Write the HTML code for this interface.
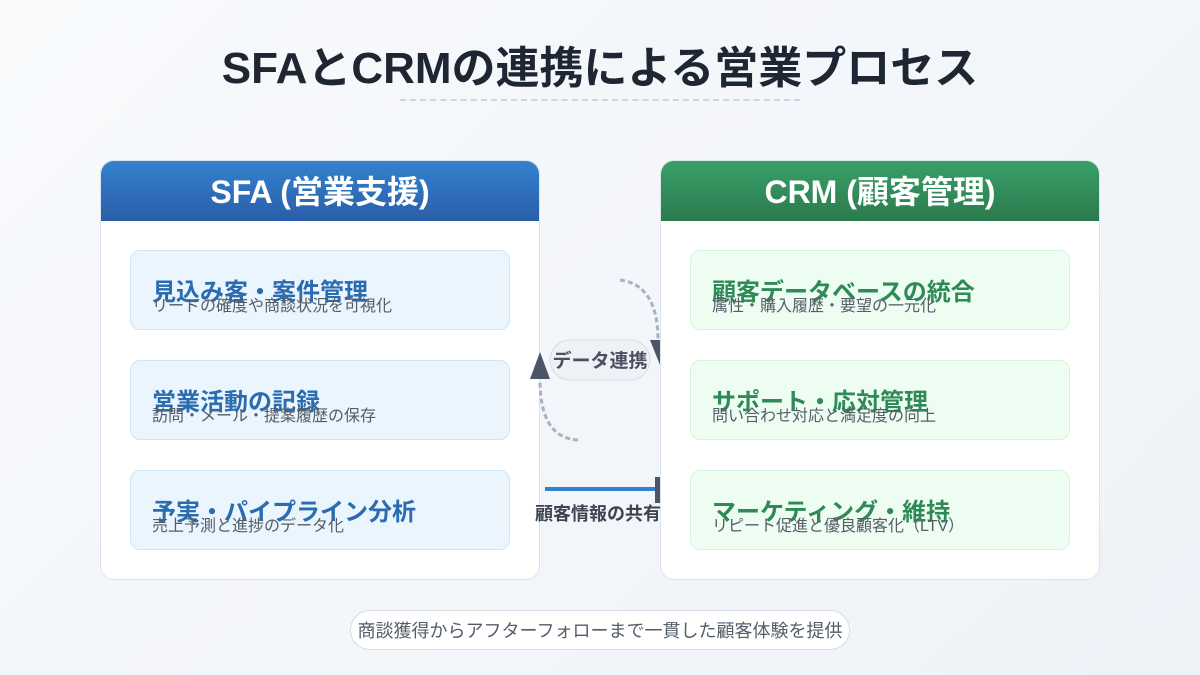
<!DOCTYPE html>
<html><head><meta charset="utf-8"><style>
body{margin:0;width:1200px;height:675px;overflow:hidden;background:linear-gradient(135deg,#f8fafc,#eef2f7);font-family:"Liberation Sans","Noto Sans CJK JP",sans-serif;position:relative}
.abs{position:absolute}
.title{left:0;width:1200px;top:41px;text-align:center;font-size:44px;font-weight:bold;color:#1e2533;line-height:56px}
.panel{top:160px;width:440px;height:420px;background:#fff;border:1px solid #dde3ea;border-radius:14px;overflow:hidden;box-sizing:border-box}
.hdr{height:60px;color:#fff;font-size:32px;font-weight:bold;text-align:center;line-height:62px}
.item{left:29px;width:380px;height:80px;border-radius:10px;box-sizing:border-box}
.it{position:absolute;left:21px;top:27px;font-size:24px;line-height:30px;font-weight:bold;white-space:nowrap}
.is{position:absolute;left:21px;top:46px;font-size:16px;line-height:20px;color:#555d68;white-space:nowrap}
.sfa .item{background:#eaf5fd;border:1px solid #cfe5f6}
.sfa .it{color:#2b6cb0}
.crm .item{background:#edfdf1;border:1px solid #d3f3dc}
.crm .it{color:#2f8a57}
</style></head><body>
<div class="abs title">SFAとCRMの連携による営業プロセス</div>
<div class="abs" style="left:400px;top:99px;width:400px;border-top:2px dashed #cfd6de"></div>

<div class="abs panel sfa" style="left:100px">
<div class="hdr" style="background:linear-gradient(#3382cf,#2a5ea8)">SFA (営業支援)</div>
<div class="abs item" style="top:89px"><div class="it">見込み客・案件管理</div><div class="is">リードの確度や商談状況を可視化</div></div>
<div class="abs item" style="top:199px"><div class="it">営業活動の記録</div><div class="is">訪問・メール・提案履歴の保存</div></div>
<div class="abs item" style="top:309px"><div class="it">予実・パイプライン分析</div><div class="is">売上予測と進捗のデータ化</div></div>
</div>

<div class="abs panel crm" style="left:660px">
<div class="hdr" style="background:linear-gradient(#38a067,#2b7a4e)">CRM (顧客管理)</div>
<div class="abs item" style="top:89px"><div class="it">顧客データベースの統合</div><div class="is">属性・購入履歴・要望の一元化</div></div>
<div class="abs item" style="top:199px"><div class="it">サポート・応対管理</div><div class="is">問い合わせ対応と満足度の向上</div></div>
<div class="abs item" style="top:309px"><div class="it">マーケティング・維持</div><div class="is">リピート促進と優良顧客化（LTV）</div></div>
</div>

<svg class="abs" style="left:0;top:0" width="1200" height="675">
<path d="M620 280 Q658 285 658 340" fill="none" stroke="#a8b2c2" stroke-width="3" stroke-dasharray="5,3"/>
<polygon points="650,340 660,340 660,365" fill="#4a5568"/>
<path d="M578 440 Q540 438 540 380" fill="none" stroke="#a8b2c2" stroke-width="3" stroke-dasharray="5,3"/>
<polygon points="530,379 550,379 540,352" fill="#4a5568"/>
<rect x="550" y="340" width="100" height="40" rx="20" fill="#eef1f5" stroke="#d7dde5"/>
<text x="600" y="367" text-anchor="middle" font-size="19" font-weight="bold" fill="#4a5060" font-family="Liberation Sans,Noto Sans CJK JP,sans-serif">データ連携</text>
<line x1="545" y1="489" x2="656" y2="489" stroke="#3182ce" stroke-width="4"/>
<rect x="655" y="477" width="5" height="26" fill="#4a5568"/>
<text x="598" y="520" text-anchor="middle" font-size="18" font-weight="bold" fill="#3d4350" font-family="Liberation Sans,Noto Sans CJK JP,sans-serif">顧客情報の共有</text>
<rect x="350.5" y="610.5" width="499" height="39" rx="19.5" fill="#fff" stroke="#d7dde5"/>
<text x="600" y="637" text-anchor="middle" font-size="18" fill="#555d68" font-family="Liberation Sans,Noto Sans CJK JP,sans-serif">商談獲得からアフターフォローまで一貫した顧客体験を提供</text>
</svg>
</body></html>
